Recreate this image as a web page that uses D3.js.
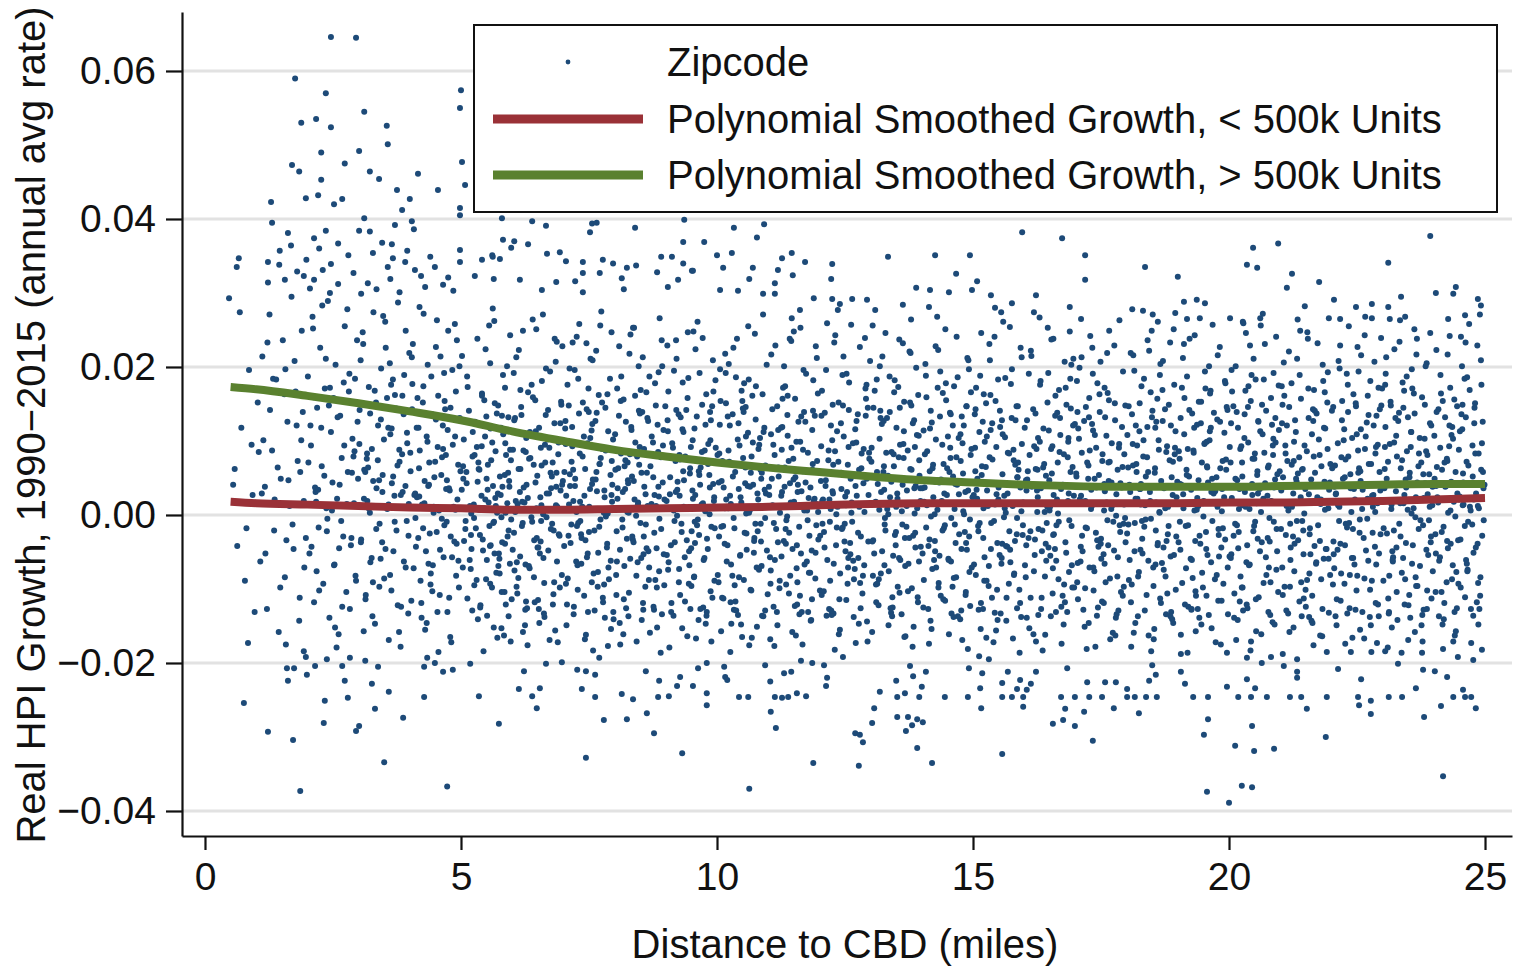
<!DOCTYPE html>
<html><head><meta charset="utf-8">
<script src="https://cdn.jsdelivr.net/npm/d3@7"></script>
<style>
body{margin:0;background:#fff}
svg text{font-family:"Liberation Sans",Arial,Helvetica,sans-serif;fill:#111}
</style>
</head><body>
<svg id="chart" width="1514" height="967"></svg>
<script>
// ---------- axis ticks ----------
const xTicks = [0, 5, 10, 15, 20, 25];
const yTicks = [-0.04, -0.02, 0, 0.02, 0.04, 0.06];

// ---------- smoothed curves (distance in miles) ----------
const curveDistance = [0.5,1,2,3,4,5,6,7,8,9,10,11,12,13,14,15,16,17,18,19,20,21,22,23,24,25];
const smoothSmall = [.0018,.0016,.0014,.0012,.0010,.0009,.0007,.0007,.0008,.0009,.0010,.0011,.0013,.0015,.0016,.0016,.0016,.0016,.0016,.0016,.0017,.0017,.0018,.0019,.0021,.0023]; // < 500k units
const smoothLarge = [.0173,.0170,.0161,.0151,.0140,.0128,.0113,.0100,.0088,.0079,.0071,.0064,.0058,.0052,.0047,.0044,.0041,.0039,.0038,.0038,.0038,.0039,.0040,.0041,.0042,.0042]; // > 500k units

// ---------- zipcode points: [distance, growth, distance, growth, ...] ----------
const zip00_05 = [
0.55,.0041,0.63,-.0042,0.71,.0118,0.78,-.0089,0.86,.0196,0.93,.0027,0.97,-.0131,0.68,.0274,0.58,.0062,0.81,-.0018,0.91,.0095,
1.03,.0152,1.08,-.0063,1.12,.0214,1.17,.0038,1.21,-.0127,1.26,.0271,1.31,.0087,1.35,-.0021,1.39,.0183,1.44,-.0158,1.48,.0049,1.52,.0236,1.56,-.0084,1.61,.0126,1.65,.0012,1.69,.0295,1.73,-.0046,1.77,.0167,1.81,.0073,1.85,-.0112,1.89,.0249,1.93,.0019,1.97,-.0031,1.14,.0101,1.42,.0064,1.58,-.0175,1.75,.0208,1.91,.0139,
2.01,.0187,2.04,-.0052,2.07,.0094,2.10,.0268,2.13,-.0118,2.16,.0031,2.19,.0145,2.22,-.0017,2.25,.0226,2.28,.0066,2.31,-.0093,2.34,.0171,2.37,.0009,2.40,.0289,2.43,-.0139,2.46,.0112,2.49,.0044,2.52,-.0068,2.55,.0203,2.58,.0022,2.61,-.0161,2.64,.0134,2.67,.0077,2.70,-.0029,2.73,.0255,2.76,-.0104,2.79,.0058,2.82,.0191,2.85,-.0041,2.88,.0103,2.91,.0016,2.94,-.0082,2.97,.0236,2.99,.0049,2.06,.0121,2.18,-.0076,2.29,.0283,2.39,-.0005,2.51,.0158,2.62,-.0045,2.71,.0179,2.83,-.0127,2.92,.0086,2.15,.0037,2.57,-.0179,
3.02,.0142,3.05,-.0033,3.08,.0247,3.11,.0061,3.14,-.0108,3.17,.0019,3.20,.0173,3.23,-.0064,3.26,.0089,3.29,.0274,3.32,-.0147,3.35,.0036,3.38,.0121,3.41,-.0012,3.44,.0198,3.47,.0054,3.50,-.0086,3.53,.0226,3.56,.0008,3.59,-.0169,3.62,.0109,3.65,.0043,3.68,-.0049,3.71,.0162,3.74,-.0021,3.77,.0287,3.80,.0072,3.83,-.0124,3.86,.0031,3.89,.0189,3.92,-.0071,3.95,.0097,3.98,.0015,3.04,.0209,3.10,-.0157,3.16,.0076,3.22,.0003,3.28,-.0091,3.34,.0152,3.40,.0047,3.46,-.0037,3.52,.0261,3.58,.0118,3.64,-.0102,3.70,.0026,3.76,.0067,3.82,-.0178,3.88,.0136,3.94,-.0008,3.99,.0219,3.13,.0058,3.43,-.0059,3.67,.0183,3.85,.0082,3.97,-.0133,
4.01,.0084,4.03,-.0116,4.06,.0231,4.09,.0027,4.12,-.0043,4.15,.0158,4.18,.0063,4.21,-.0089,4.24,.0014,4.27,.0272,4.30,-.0155,4.33,.0106,4.36,.0039,4.39,-.0025,4.42,.0187,4.45,-.0068,4.48,.0051,4.51,.0129,4.54,-.0131,4.57,.0006,4.60,.0214,4.63,.0078,4.66,-.0057,4.69,.0143,4.72,-.0009,4.75,.0249,4.78,.0033,4.81,-.0172,4.84,.0095,4.87,-.0036,4.90,.0167,4.93,.0021,4.96,-.0098,4.99,.0059,4.05,.0177,4.11,-.0004,4.17,.0118,4.23,-.0139,4.29,.0046,4.35,.0203,4.41,-.0079,4.47,.0011,4.53,.0263,4.59,-.0047,4.65,.0089,4.71,.0035,4.77,-.0112,4.83,.0196,4.89,.0007,4.95,-.0062,4.08,.0139,4.26,-.0018,4.38,.0071,4.56,-.0185,4.68,.0154,4.80,-.0029,4.92,.0236,4.14,.0024,4.44,-.0103,4.74,.0115
];
const zip05_10 = [
5.02,.0215,5.11,.0043,5.17,-.0061,5.23,.0112,5.29,-.0018,5.34,.0071,5.38,-.0122,5.41,.0164,5.45,.0009,5.49,-.0087,5.52,.0034,5.55,.0256,5.58,-.0041,5.61,.0098,5.64,-.0152,5.67,.0023,5.70,.0137,5.73,-.0069,5.76,.0052,5.79,-.0003,5.82,.0189,5.85,-.0104,5.88,.0081,5.91,-.0029,5.94,.0046,5.97,-.0171,5.06,-.0035,5.14,.0127,5.20,.0002,5.26,-.0095,5.32,.0238,5.36,.0061,5.43,-.0048,5.47,.0106,5.51,-.0136,5.54,.0017,5.59,.0074,5.63,-.0011,5.66,.0151,5.69,-.0078,5.72,.0029,5.75,-.0059,5.78,.0118,5.81,.0038,5.84,-.0163,5.87,.0003,5.90,.0201,5.93,-.0021,5.96,.0088,5.99,-.0114,5.04,.0066,5.09,-.0008,5.13,.0173,5.19,-.0073,5.25,.0014,5.31,.0092,5.37,-.0027,5.44,-.0184,5.50,.0049,5.57,-.0093,5.62,.0279,5.68,.0012,5.74,-.0052,5.80,.0134,5.86,-.0039,5.92,.0057,5.98,-.0006,5.40,.0026,
6.01,-.0047,6.04,.0128,6.07,.0019,6.10,-.0106,6.13,.0223,6.16,.0062,6.19,-.0015,6.22,.0087,6.25,-.0149,6.28,.0041,6.31,.0166,6.34,-.0072,6.37,.0008,6.40,.0264,6.43,-.0034,6.46,.0113,6.49,.0053,6.52,-.0127,6.55,.0024,6.58,.0181,6.61,-.0058,6.64,.0095,6.67,-.0003,6.70,.0142,6.73,-.0169,6.76,.0036,6.79,.0071,6.82,-.0091,6.85,.0207,6.88,.0011,6.91,-.0026,6.94,.0124,6.97,-.0081,6.99,.0046,6.03,.0192,6.09,-.0064,6.15,.0031,6.21,.0249,6.27,-.0117,6.33,.0076,6.39,-.0009,6.45,.0155,6.51,-.0044,6.57,.0013,6.63,-.0138,6.69,.0102,6.75,.0057,6.81,-.0021,6.87,.0234,6.93,-.0098,6.06,.0004,6.18,.0135,6.30,-.0176,6.42,.0068,6.54,-.0052,6.66,.0198,6.78,-.0012,6.90,.0082,6.12,-.0085,6.24,.0017,6.36,.0109,6.48,-.0031,6.60,.0271,6.72,.0029,6.84,-.0156,6.96,.0149,6.26,-.0067,6.56,.0091,6.86,.0038,6.44,-.0118,
7.02,.0058,7.05,-.0093,7.08,.0176,7.11,.0014,7.14,-.0038,7.17,.0119,7.20,-.0134,7.23,.0049,7.26,.0241,7.29,-.0011,7.32,.0083,7.35,-.0066,7.38,.0152,7.41,.0026,7.44,-.0162,7.47,.0097,7.50,-.0023,7.53,.0211,7.56,.0042,7.59,-.0079,7.62,.0007,7.65,.0138,7.68,-.0051,7.71,.0069,7.74,.0275,7.77,-.0112,7.80,.0033,7.83,-.0002,7.86,.0163,7.89,-.0087,7.92,.0054,7.95,.0018,7.98,-.0141,7.04,.0127,7.10,-.0028,7.16,.0072,7.22,.0196,7.28,-.0101,7.34,.0009,7.40,.0106,7.46,-.0057,7.52,.0035,7.58,-.0183,7.64,.0222,7.70,-.0016,7.76,.0089,7.82,.0145,7.88,-.0071,7.94,.0027,7.07,-.0121,7.19,.0061,7.31,.0258,7.43,-.0034,7.55,.0114,7.67,-.0097,7.79,.0003,7.91,.0184,7.13,.0039,7.25,-.0063,7.37,.0011,7.49,.0171,7.61,-.0129,7.73,.0077,7.85,-.0044,7.97,.0102,7.33,-.0008,7.63,.0048,7.93,-.0154,7.45,.0232,
8.01,.0109,8.04,-.0022,8.07,.0063,8.10,-.0146,8.13,.0187,8.16,.0031,8.19,-.0069,8.22,.0126,8.25,.0004,8.28,-.0105,8.31,.0244,8.34,.0052,8.37,-.0037,8.40,.0161,8.43,-.0171,8.46,.0017,8.49,.0092,8.52,-.0058,8.55,.0213,8.58,.0038,8.61,-.0013,8.64,.0131,8.67,-.0088,8.70,.0066,8.73,.0009,8.76,-.0124,8.79,.0178,8.82,-.0045,8.85,.0085,8.88,.0266,8.91,-.0019,8.94,.0044,8.97,-.0095,8.99,.0147,8.03,-.0081,8.09,.0228,8.15,-.0006,8.21,.0074,8.27,-.0137,8.33,.0115,8.39,.0021,8.45,-.0064,8.51,.0169,8.57,-.0029,8.63,.0057,8.69,-.0159,8.75,.0098,8.81,.0012,8.87,-.0076,8.93,.0201,8.06,.0036,8.18,-.0114,8.30,.0082,8.42,-.0001,8.54,.0139,8.66,-.0049,8.78,.0027,8.90,-.0186,8.12,.0154,8.24,-.0032,8.36,.0253,8.48,.0068,8.60,-.0097,8.72,.0015,8.84,.0122,8.96,-.0053,8.26,.0047,8.56,-.0128,8.86,.0193,8.44,.0079,
9.02,-.0054,9.05,.0167,9.08,.0028,9.11,-.0119,9.14,.0091,9.17,-.0008,9.20,.0236,9.23,.0045,9.26,-.0073,9.29,.0132,9.32,-.0153,9.35,.0011,9.38,.0079,9.41,-.0034,9.44,.0185,9.47,.0056,9.50,-.0096,9.53,.0022,9.56,.0117,9.59,-.0167,9.62,.0261,9.65,-.0027,9.68,.0064,9.71,.0149,9.74,-.0061,9.77,.0005,9.80,-.0131,9.83,.0096,9.86,.0037,9.89,-.0016,9.92,.0209,9.95,-.0089,9.98,.0071,9.04,.0113,9.10,-.0041,9.16,.0195,9.22,-.0001,9.28,-.0108,9.34,.0059,9.40,.0142,9.46,-.0068,9.52,.0033,9.58,.0224,9.64,-.0142,9.70,.0014,9.76,.0087,9.82,-.0046,9.88,.0128,9.94,.0019,9.07,-.0179,9.19,.0073,9.31,-.0023,9.43,.0247,9.55,-.0084,9.67,.0041,9.79,.0163,9.91,-.0112,9.13,.0008,9.25,.0136,9.37,-.0057,9.49,.0092,9.61,-.0014,9.73,-.0125,9.85,.0054,9.97,.0182,9.27,.0026,9.57,-.0038,9.87,.0101,9.45,-.0093
];
const zip10_15 = [
10.01,.0081,10.04,-.0029,10.07,.0154,10.10,-.0112,10.13,.0037,10.16,.0218,10.19,-.0063,10.22,.0009,10.25,.0121,10.28,-.0147,10.31,.0052,10.34,-.0018,10.37,.0186,10.40,.0068,10.43,-.0084,10.46,.0024,10.49,-.0165,10.52,.0139,10.55,.0043,10.58,-.0047,10.61,.0255,10.64,.0006,10.67,-.0102,10.70,.0098,10.73,-.0031,10.76,.0174,10.79,.0029,10.82,-.0074,10.85,.0061,10.88,-.0136,10.91,.0112,10.94,-.0004,10.97,.0203,10.03,-.0091,10.09,.0046,10.15,-.0039,10.21,.0133,10.27,.0015,10.33,-.0128,10.39,.0238,10.45,-.0055,10.51,.0077,10.57,.0002,10.63,-.0176,10.69,.0161,10.75,-.0012,10.81,.0089,10.87,-.0069,10.93,.0034,10.99,-.0107,10.06,.0197,10.18,.0021,10.30,-.0082,10.42,.0124,10.54,-.0024,10.66,.0057,10.78,-.0151,10.90,.0271,10.12,-.0015,10.24,.0072,10.36,-.0117,10.48,.0168,10.60,.0039,10.72,-.0051,10.84,.0104,10.96,.0011,10.26,-.0185,10.56,.0146,10.86,-.0036,10.44,.0094,
11.02,.0027,11.05,-.0075,11.08,.0143,11.11,-.0011,11.14,.0229,11.17,-.0131,11.20,.0064,11.23,.0003,11.26,-.0056,11.29,.0172,11.32,.0038,11.35,-.0094,11.38,.0107,11.41,-.0024,11.44,.0017,11.47,-.0158,11.50,.0248,11.53,.0051,11.56,-.0041,11.59,.0126,11.62,-.0109,11.65,.0032,11.68,.0088,11.71,-.0067,11.74,.0191,11.77,-.0007,11.80,.0058,11.83,-.0143,11.86,.0115,11.89,.0019,11.92,-.0086,11.95,.0212,11.98,-.0033,11.04,-.0168,11.10,.0095,11.16,.0012,11.22,-.0099,11.28,.0157,11.34,-.0019,11.40,.0073,11.46,.0266,11.52,-.0123,11.58,.0041,11.64,-.0052,11.70,.0139,11.76,.0006,11.82,-.0078,11.88,.0182,11.94,-.0014,11.07,.0049,11.19,-.0037,11.31,.0201,11.43,-.0082,11.55,.0099,11.67,-.0175,11.79,.0023,11.91,.0134,11.13,-.0061,11.25,.0118,11.37,-.0002,11.49,.0076,11.61,-.0134,11.73,.0044,11.85,-.0048,11.97,.0164,11.27,.0031,11.57,-.0091,11.87,.0069,11.45,.0235,
12.01,-.0102,12.04,.0134,12.07,.0021,12.10,-.0044,12.13,.0196,12.16,.0057,12.19,-.0127,12.22,.0008,12.25,.0101,12.28,-.0066,12.31,.0243,12.34,-.0017,12.37,.0072,12.40,-.0155,12.43,.0035,12.46,.0148,12.49,-.0036,12.52,.0013,12.55,-.0093,12.58,.0179,12.61,.0049,12.64,-.0009,12.67,-.0138,12.70,.0116,12.73,.0026,12.76,-.0058,12.79,.0227,12.82,.0063,12.85,-.0082,12.88,.0004,12.91,.0157,12.94,-.0171,12.97,.0084,12.03,.0046,12.09,-.0023,12.15,.0259,12.21,-.0089,12.27,.0068,12.33,.0001,12.39,-.0114,12.45,.0189,12.51,-.0049,12.57,.0092,12.63,.0017,12.69,-.0073,12.75,.0136,12.81,-.0029,12.87,.0054,12.93,-.0144,12.99,.0208,12.06,-.0012,12.18,.0087,12.30,-.0182,12.42,.0124,12.54,.0031,12.66,-.0062,12.78,.0011,12.90,.0171,12.12,.0039,12.24,-.0135,12.36,.0277,12.48,.0055,12.60,-.0038,12.72,.0098,12.84,-.0106,12.96,.0027,12.26,.0149,12.56,-.0071,12.86,.0043,12.44,-.0019,
13.02,.0091,13.05,-.0034,13.08,.0168,13.11,-.0118,13.14,.0042,13.17,.0007,13.20,-.0079,13.23,.0214,13.26,.0066,13.29,-.0021,13.32,.0131,13.35,-.0149,13.38,.0024,13.41,.0085,13.44,-.0055,13.47,.0182,13.50,.0011,13.53,-.0097,13.56,.0237,13.59,.0048,13.62,-.0013,13.65,.0113,13.68,-.0164,13.71,.0033,13.74,-.0066,13.77,.0152,13.80,.0061,13.83,-.0028,13.86,.0002,13.89,.0199,13.92,-.0111,13.95,.0074,13.98,-.0043,13.04,.0256,13.10,.0018,13.16,-.0087,13.22,.0123,13.28,-.0004,13.34,.0053,13.40,-.0132,13.46,.0166,13.52,.0029,13.58,-.0061,13.64,.0096,13.70,-.0016,13.76,.0221,13.82,-.0178,13.88,.0039,13.94,.0107,13.07,-.0052,13.19,.0141,13.31,.0015,13.43,-.0125,13.55,.0078,13.67,-.0031,13.79,.0264,13.91,.0009,13.13,-.0093,13.25,.0058,13.37,.0187,13.49,-.0041,13.61,.0005,13.73,-.0103,13.85,.0128,13.97,.0036,13.27,-.0068,13.57,.0145,13.87,-.0024,13.45,.0082,
14.01,.0036,14.04,-.0088,14.07,.0204,14.10,.0013,14.13,-.0042,14.16,.0117,14.19,-.0154,14.22,.0068,14.25,.0001,14.28,-.0071,14.31,.0172,14.34,.0044,14.37,-.0109,14.40,.0095,14.43,-.0018,14.46,.0251,14.49,.0027,14.52,-.0059,14.55,.0138,14.58,-.0133,14.61,.0052,14.64,.0008,14.67,-.0084,14.70,.0186,14.73,-.0026,14.76,.0073,14.79,-.0169,14.82,.0121,14.85,.0031,14.88,-.0047,14.91,.0209,14.94,-.0006,14.97,.0089,14.03,-.0125,14.09,.0159,14.15,-.0033,14.21,.0063,14.27,.0228,14.33,-.0092,14.39,.0019,14.45,-.0014,14.51,.0106,14.57,-.0063,14.63,.0174,14.69,.0041,14.75,-.0141,14.81,.0005,14.87,.0147,14.93,-.0077,14.99,.0024,14.06,.0082,14.18,-.0002,14.30,.0268,14.42,-.0114,14.54,.0058,14.66,-.0038,14.78,.0133,14.90,-.0181,14.12,.0047,14.24,-.0061,14.36,.0194,14.48,.0016,14.60,-.0097,14.72,.0104,14.84,-.0023,14.96,.0166,14.26,-.0049,14.56,.0077,14.86,-.0104,14.44,.0029
];
const zip15_20 = [
15.02,-.0067,15.05,.0143,15.08,.0022,15.11,-.0128,15.14,.0188,15.17,.0054,15.20,-.0031,15.23,.0099,15.26,-.0166,15.29,.0012,15.32,.0231,15.35,-.0046,15.38,.0075,15.41,-.0008,15.44,.0154,15.47,-.0101,15.50,.0037,15.53,.0119,15.56,-.0058,15.59,.0261,15.62,.0009,15.65,-.0143,15.68,.0084,15.71,-.0022,15.74,.0177,15.77,.0041,15.80,-.0081,15.83,.0128,15.86,-.0004,15.89,.0061,15.92,-.0119,15.95,.0213,15.98,.0017,15.04,.0091,15.10,-.0015,15.16,.0246,15.22,-.0089,15.28,.0043,15.34,.0162,15.40,-.0172,15.46,.0028,15.52,-.0054,15.58,.0109,15.64,.0003,15.70,-.0093,15.76,.0197,15.82,-.0035,15.88,.0071,15.94,-.0138,15.07,.0034,15.19,.0126,15.31,-.0069,15.43,.0014,15.55,.0274,15.67,-.0043,15.79,.0088,15.91,-.0186,15.13,-.0011,15.25,.0065,15.37,-.0112,15.49,.0183,15.61,.0026,15.73,-.0064,15.85,.0147,15.97,-.0027,15.27,.0106,15.57,-.0039,15.87,.0051,15.45,-.0156,
16.01,.0118,16.04,-.0041,16.07,.0059,16.10,-.0153,16.13,.0222,16.16,.0015,16.19,-.0076,16.22,.0137,16.25,.0033,16.28,-.0019,16.31,.0176,16.34,-.0112,16.37,.0064,16.40,.0004,16.43,-.0062,16.46,.0253,16.49,.0047,16.52,-.0137,16.55,.0093,16.58,-.0026,16.61,.0161,16.64,.0021,16.67,-.0087,16.70,.0131,16.73,-.0174,16.76,.0039,16.79,.0207,16.82,-.0051,16.85,.0078,16.88,-.0007,16.91,.0144,16.94,-.0098,16.97,.0026,16.03,-.0084,16.09,.0191,16.15,.0038,16.21,-.0033,16.27,.0104,16.33,-.0127,16.39,.0069,16.45,.0011,16.51,-.0055,16.57,.0238,16.63,-.0014,16.69,.0085,16.75,-.0109,16.81,.0172,16.87,.0029,16.93,-.0068,16.99,.0123,16.06,.0048,16.18,-.0161,16.30,.0267,16.42,-.0039,16.54,.0056,16.66,.0002,16.78,-.0094,16.90,.0184,16.12,-.0022,16.24,.0089,16.36,-.0183,16.48,.0114,16.60,-.0046,16.72,.0035,16.84,-.0131,16.96,.0211,16.26,.0061,16.56,-.0072,16.86,.0099,16.44,-.0011,
17.02,.0052,17.05,-.0114,17.08,.0199,17.11,.0026,17.14,-.0049,17.17,.0127,17.20,-.0017,17.23,.0071,17.26,-.0146,17.29,.0242,17.32,.0012,17.35,-.0071,17.38,.0108,17.41,.0037,17.44,-.0125,17.47,.0163,17.50,-.0032,17.53,.0082,17.56,.0006,17.59,-.0091,17.62,.0219,17.65,.0046,17.68,-.0168,17.71,.0097,17.74,-.0009,17.77,.0151,17.80,.0028,17.83,-.0057,17.86,.0263,17.89,-.0104,17.92,.0065,17.95,.0014,17.98,-.0037,17.04,.0139,17.10,-.0063,17.16,.0018,17.22,-.0181,17.28,.0087,17.34,.0191,17.40,-.0024,17.46,.0054,17.52,-.0117,17.58,.0132,17.64,-.0041,17.70,.0008,17.76,.0229,17.82,-.0083,17.88,.0043,17.94,-.0012,17.07,.0103,17.19,-.0099,17.31,.0034,17.43,.0178,17.55,-.0053,17.67,.0072,17.79,-.0139,17.91,.0119,17.13,-.0028,17.25,.0049,17.37,-.0076,17.49,.0207,17.61,.0017,17.73,-.0159,17.85,.0091,17.97,-.0004,17.27,.0158,17.57,-.0066,17.87,.0039,17.45,-.0043,
18.01,-.0025,18.04,.0147,18.07,.0031,18.10,-.0094,18.13,.0216,18.16,-.0011,18.19,.0069,18.22,-.0137,18.25,.0113,18.28,.0042,18.31,-.0052,18.34,.0184,18.37,-.0006,18.40,.0078,18.43,-.0163,18.46,.0019,18.49,.0249,18.52,-.0071,18.55,.0057,18.58,.0126,18.61,-.0038,18.64,.0004,18.67,-.0119,18.70,.0169,18.73,.0036,18.76,-.0083,18.79,.0093,18.82,-.0015,18.85,.0233,18.88,.0051,18.91,-.0146,18.94,.0082,18.97,-.0029,18.03,.0064,18.09,-.0178,18.15,.0195,18.21,.0022,18.27,-.0047,18.33,.0101,18.39,-.0108,18.45,.0039,18.51,.0271,18.57,-.0021,18.63,.0088,18.69,-.0065,18.75,.0143,18.81,.0011,18.87,-.0131,18.93,.0176,18.99,.0045,18.06,-.0061,18.18,.0121,18.30,-.0008,18.42,.0058,18.54,-.0154,18.66,.0204,18.78,-.0035,18.90,.0027,18.12,.0096,18.24,-.0077,18.36,.0013,18.48,-.0184,18.60,.0157,18.72,-.0044,18.84,.0074,18.96,-.0101,18.26,.0035,18.56,.0118,18.86,-.0056,18.44,.0222,
19.02,.0086,19.05,-.0047,19.08,.0172,19.11,.0009,19.14,-.0121,19.17,.0061,19.20,-.0014,19.23,.0238,19.26,.0034,19.29,-.0085,19.32,.0118,19.35,-.0157,19.38,.0023,19.41,.0153,19.44,-.0039,19.47,.0071,19.50,-.0002,19.53,.0194,19.56,-.0109,19.59,.0044,19.62,.0101,19.65,-.0064,19.68,.0257,19.71,.0016,19.74,-.0172,19.77,.0129,19.80,-.0027,19.83,.0063,19.86,.0005,19.89,-.0093,19.92,.0181,19.95,.0038,19.98,-.0134,19.04,-.0009,19.10,.0212,19.16,-.0072,19.22,.0052,19.28,.0137,19.34,-.0035,19.40,.0012,19.46,-.0148,19.52,.0096,19.58,-.0054,19.64,.0168,19.70,.0029,19.76,-.0081,19.82,.0227,19.88,-.0018,19.94,.0075,19.07,.0041,19.19,-.0186,19.31,.0084,19.43,.0266,19.55,-.0023,19.67,.0049,19.79,-.0116,19.91,.0111,19.13,.0158,19.25,-.0059,19.37,.0007,19.49,-.0098,19.61,.0201,19.73,.0032,19.85,-.0044,19.97,.0142,19.27,-.0127,19.57,.0066,19.87,.0018,19.45,.0124
];
const zip20_25 = [
20.01,-.0056,20.04,.0124,20.07,.0018,20.10,-.0139,20.13,.0201,20.16,.0047,20.19,-.0023,20.22,.0089,20.25,-.0098,20.28,.0259,20.31,.0031,20.34,-.0064,20.37,.0146,20.40,.0008,20.43,-.0171,20.46,.0076,20.49,-.0015,20.52,.0183,20.55,.0054,20.58,-.0111,20.61,.0113,20.64,-.0037,20.67,.0022,20.70,.0231,20.73,-.0081,20.76,.0064,20.79,-.0004,20.82,.0158,20.85,-.0145,20.88,.0037,20.91,.0098,20.94,-.0049,20.97,.0175,20.03,.0071,20.09,-.0028,20.15,.0139,20.21,-.0117,20.27,.0013,20.33,.0246,20.39,-.0068,20.45,.0042,20.51,-.0009,20.57,.0127,20.63,-.0161,20.69,.0084,20.75,.0026,20.81,-.0091,20.87,.0192,20.93,-.0019,20.99,.0059,20.06,.0167,20.18,-.0045,20.30,.0104,20.42,-.0183,20.54,.0016,20.66,.0272,20.78,-.0071,20.90,.0048,20.12,-.0012,20.24,.0093,20.36,-.0126,20.48,.0211,20.60,.0035,20.72,-.0057,20.84,.0122,20.96,-.0104,20.26,.0052,20.56,-.0032,20.86,.0081,20.44,.0189,
21.02,.0033,21.05,-.0108,21.08,.0161,21.11,-.0027,21.14,.0073,21.17,.0221,21.20,-.0061,21.23,.0011,21.26,-.0152,21.29,.0128,21.32,.0045,21.35,-.0034,21.38,.0189,21.41,-.0091,21.44,.0062,21.47,.0002,21.50,-.0124,21.53,.0247,21.56,.0028,21.59,-.0053,21.62,.0109,21.65,-.0176,21.68,.0057,21.71,.0137,21.74,-.0014,21.77,.0081,21.80,-.0087,21.83,.0203,21.86,.0019,21.89,-.0046,21.92,.0152,21.95,-.0132,21.98,.0069,21.04,-.0071,21.10,.0094,21.16,.0006,21.22,.0178,21.28,-.0039,21.34,.0264,21.40,.0024,21.46,-.0113,21.52,.0086,21.58,-.0018,21.64,.0143,21.70,-.0066,21.76,.0039,21.82,-.0164,21.88,.0117,21.94,.0009,21.07,.0206,21.19,-.0097,21.31,.0049,21.43,-.0008,21.55,.0171,21.67,-.0042,21.79,.0015,21.91,-.0185,21.13,.0121,21.25,-.0029,21.37,.0078,21.49,.0035,21.61,-.0143,21.73,.0232,21.85,-.0059,21.97,.0044,21.27,.0099,21.57,-.0079,21.87,.0166,21.45,-.0021,
22.01,.0141,22.04,-.0036,22.07,.0067,22.10,-.0149,22.13,.0013,22.16,.0198,22.19,-.0079,22.22,.0041,22.25,.0116,22.28,-.0012,22.31,-.0133,22.34,.0255,22.37,.0055,22.40,-.0058,22.43,.0163,22.46,.0021,22.49,-.0102,22.52,.0087,22.55,-.0024,22.58,.0216,22.61,.0034,22.64,-.0167,22.67,.0106,22.70,-.0005,22.73,.0069,22.76,.0181,22.79,-.0089,22.82,.0027,22.85,-.0043,22.88,.0134,22.91,-.0121,22.94,.0058,22.97,.0239,22.03,-.0094,22.09,.0029,22.15,-.0008,22.21,.0154,22.27,-.0174,22.33,.0079,22.39,.0004,22.45,-.0067,22.51,.0227,22.57,.0046,22.63,-.0031,22.69,.0125,22.75,-.0138,22.81,.0011,22.87,.0092,22.93,-.0052,22.99,.0171,22.06,.0038,22.18,-.0116,22.30,.0191,22.42,-.0019,22.54,.0063,22.66,.0268,22.78,-.0185,22.90,.0016,22.12,-.0047,22.24,.0101,22.36,-.0081,22.48,.0147,22.60,.0008,22.72,-.0062,22.84,.0207,22.96,-.0026,22.26,.0051,22.56,-.0155,22.86,.0083,22.44,.0035,
23.02,-.0018,23.05,.0176,23.08,.0049,23.11,-.0113,23.14,.0096,23.17,.0008,23.20,-.0063,23.23,.0224,23.26,.0032,23.29,-.0142,23.32,.0138,23.35,-.0029,23.38,.0074,23.41,.0016,23.44,-.0087,23.47,.0187,23.50,-.0169,23.53,.0057,23.56,.0112,23.59,-.0041,23.62,.0251,23.65,.0024,23.68,-.0096,23.71,.0083,23.74,-.0007,23.77,.0159,23.80,-.0128,23.83,.0043,23.86,.0205,23.89,-.0054,23.92,.0011,23.95,.0121,23.98,-.0076,23.04,.0062,23.10,-.0179,23.16,.0148,23.22,-.0021,23.28,.0079,23.34,.0263,23.40,-.0058,23.46,.0037,23.52,-.0108,23.58,.0171,23.64,-.0003,23.70,.0066,23.76,-.0149,23.82,.0103,23.88,.0028,23.94,-.0037,23.07,.0213,23.19,-.0049,23.31,.0019,23.43,-.0121,23.55,.0092,23.67,.0238,23.79,-.0014,23.91,.0055,23.13,-.0082,23.25,.0131,23.37,-.0186,23.49,.0007,23.61,.0164,23.73,-.0069,23.85,.0086,23.97,.0013,23.27,-.0044,23.57,.0197,23.87,-.0102,23.45,.0048,
24.01,.0107,24.04,-.0052,24.07,.0024,24.10,-.0137,24.13,.0189,24.16,.0061,24.19,-.0016,24.22,.0132,24.25,-.0091,24.28,.0003,24.31,.0242,24.34,.0045,24.37,-.0068,24.40,.0156,24.43,-.0157,24.46,.0029,24.49,.0088,24.52,-.0033,24.55,.0201,24.58,.0014,24.61,-.0111,24.64,.0072,24.67,-.0009,24.70,.0169,24.73,-.0173,24.76,.0052,24.79,.0124,24.82,-.0044,24.85,.0229,24.88,.0009,24.91,-.0084,24.94,.0097,24.97,.0036,24.03,-.0026,24.09,.0143,24.15,-.0104,24.21,.0071,24.27,.0217,24.33,-.0039,24.39,.0018,24.45,-.0126,24.51,.0113,24.57,.0056,24.63,-.0061,24.69,.0258,24.75,-.0013,24.81,.0083,24.87,-.0148,24.93,.0176,24.99,.0041,24.06,.0065,24.18,-.0181,24.30,.0093,24.42,-.0002,24.54,.0136,24.66,-.0074,24.78,.0021,24.90,.0271,24.12,-.0057,24.24,.0039,24.36,.0119,24.48,-.0093,24.60,.0184,24.72,.0006,24.84,-.0118,24.96,.0058,24.26,-.0035,24.56,.0149,24.86,.0012,24.44,-.0077
];
// dense centre of the cloud (second read, |growth| mostly within ~0.015)
const zipDense01_10 = [
1.05,.0085,1.18,-.0052,1.27,.0142,1.36,.0021,1.47,-.0098,1.55,.0163,1.63,.0047,1.71,-.0013,1.79,.0121,1.86,.0058,1.94,-.0071,1.11,.0029,1.33,.0184,1.59,-.0034,1.88,.0101,
2.02,.0071,2.08,-.0043,2.12,.0159,2.17,.0018,2.23,-.0102,2.27,.0118,2.33,.0053,2.38,-.0022,2.44,.0172,2.48,.0006,2.53,-.0067,2.59,.0132,2.63,.0041,2.68,-.0124,2.72,.0094,2.77,.0015,2.81,.0167,2.86,-.0031,2.90,.0079,2.95,-.0089,2.98,.0126,2.21,.0034,2.42,.0148,2.66,-.0008,2.87,.0057,
3.015,.0096,3.045,-.0037,3.075,.0151,3.105,.0022,3.135,-.0114,3.165,.0083,3.195,.0009,3.225,.0137,3.255,-.0058,3.285,.0046,3.315,.0168,3.345,-.0019,3.375,.0074,3.405,-.0097,3.435,.0129,3.465,.0031,3.495,.0102,3.525,-.0046,3.555,.0158,3.585,.0014,3.615,-.0081,3.645,.0117,3.675,.0052,3.705,-.0009,3.735,.0144,3.765,-.0122,3.795,.0088,3.825,.0027,3.855,.0161,3.885,-.0063,3.915,.0039,3.945,.0111,3.975,-.0028,3.185,.0064,3.635,.0176,
4.015,.0059,4.045,.0143,4.075,-.0072,4.105,.0029,4.135,.0118,4.165,-.0031,4.195,.0087,4.225,-.0119,4.255,.0152,4.285,.0016,4.315,-.0049,4.345,.0099,4.375,.0041,4.405,-.0094,4.435,.0136,4.465,.0003,4.495,.0072,4.525,-.0023,4.555,.0161,4.585,-.0108,4.615,.0054,4.645,.0121,4.675,-.0014,4.705,.0081,4.735,-.0131,4.765,.0036,4.795,.0145,4.825,-.0057,4.855,.0011,4.885,.0106,4.915,-.0039,4.945,.0068,4.975,.0131,4.185,.0025,4.365,-.0066,4.545,.0092,4.725,.0047,4.905,-.0082,4.265,.0174,4.625,-.0005,
5.015,.0034,5.035,-.0071,5.055,.0102,5.085,-.0019,5.105,.0058,5.125,-.0113,5.155,.0141,5.175,.0012,5.205,-.0046,5.225,.0079,5.255,-.0004,5.275,.0126,5.305,-.0088,5.325,.0045,5.355,.0007,5.375,-.0125,5.405,.0093,5.425,-.0033,5.455,.0155,5.475,.0021,5.505,-.0061,5.525,.0068,5.555,-.0015,5.575,.0117,5.605,-.0098,5.625,.0039,5.655,-.0052,5.675,.0086,5.705,.0003,5.725,.0148,5.755,-.0079,5.775,.0027,5.805,-.0037,5.825,.0109,5.855,.0054,5.875,-.0121,5.905,.0016,5.925,.0132,5.955,-.0066,5.975,.0074,5.045,.0049,5.195,-.0027,5.345,.0062,5.495,.0133,5.645,-.0009,5.795,-.0104,5.945,.0038,5.265,.0081,5.565,-.0042,5.865,.0097,
6.015,.0088,6.035,-.0024,6.055,.0131,6.085,-.0097,6.105,.0015,6.125,.0062,6.155,-.0056,6.175,.0146,6.205,-.0011,6.225,.0037,6.255,-.0128,6.275,.0104,6.305,.0023,6.325,-.0069,6.355,.0077,6.375,-.0003,6.405,.0159,6.425,-.0084,6.455,.0044,6.475,.0009,6.505,-.0115,6.525,.0118,6.555,-.0036,6.575,.0067,6.605,.0001,6.625,-.0092,6.655,.0135,6.675,.0029,6.705,-.0048,6.725,.0091,6.755,-.0019,6.775,.0052,6.805,-.0107,6.825,.0124,6.855,.0013,6.875,-.0063,6.905,.0098,6.925,-.0028,6.955,.0153,6.975,.0041,6.045,-.0075,6.195,.0018,6.345,.0112,6.495,-.0044,6.645,.0071,6.795,-.0121,6.945,.0033,6.265,.0085,6.565,-.0008,6.865,.0057,
7.015,-.0042,7.035,.0117,7.055,.0026,7.085,-.0086,7.105,.0148,7.125,.0055,7.155,-.0013,7.175,.0093,7.205,-.0124,7.225,.0039,7.255,.0004,7.275,-.0068,7.305,.0137,7.325,.0018,7.355,-.0031,7.375,.0079,7.405,-.0109,7.425,.0062,7.455,.0143,7.475,-.0052,7.505,.0011,7.525,.0104,7.555,-.0091,7.575,.0048,7.605,-.0021,7.625,.0127,7.655,.0032,7.675,-.0077,7.705,.0069,7.725,-.0006,7.755,.0152,7.775,-.0118,7.805,.0024,7.825,.0087,7.855,-.0039,7.875,.0113,7.905,.0008,7.925,-.0062,7.955,.0041,7.975,-.0131,7.045,.0096,7.195,.0019,7.345,-.0026,7.495,.0139,7.645,.0058,7.795,-.0094,7.945,.0073,7.265,-.0015,7.565,.0123,7.865,.0002,
8.015,.0061,8.035,-.0108,8.055,.0022,8.085,.0134,8.105,-.0047,8.125,.0083,8.155,-.0017,8.175,.0156,8.205,.0035,8.225,-.0126,8.255,.0071,8.275,.0003,8.305,-.0059,8.325,.0119,8.355,-.0033,8.375,.0046,8.405,.0098,8.425,-.0082,8.455,.0014,8.475,.0141,8.505,-.0011,8.525,.0057,8.555,-.0119,8.575,.0089,8.605,.0028,8.625,-.0045,8.655,.0127,8.675,-.0071,8.705,.0009,8.725,.0106,8.755,.0051,8.775,-.0024,8.805,.0148,8.825,-.0098,8.855,.0038,8.875,-.0005,8.905,.0078,8.925,-.0134,8.955,.0115,8.975,.0021,8.045,-.0063,8.195,.0066,8.345,-.0029,8.495,.0137,8.645,.0012,8.795,-.0088,8.945,.0094,8.265,.0043,8.565,-.0053,8.865,.0025,
9.015,.0019,9.035,.0128,9.055,-.0064,9.085,.0051,9.105,-.0131,9.125,.0097,9.155,.0006,9.175,-.0037,9.205,.0142,9.225,.0034,9.255,-.0091,9.275,.0075,9.305,-.0012,9.325,.0116,9.355,.0047,9.375,-.0117,9.405,.0008,9.425,.0158,9.455,-.0049,9.475,.0063,9.505,-.0022,9.525,.0101,9.555,-.0083,9.575,.0027,9.605,.0133,9.625,-.0006,9.655,.0054,9.675,-.0127,9.705,.0085,9.725,.0016,9.755,-.0058,9.775,.0122,9.805,-.0032,9.825,.0069,9.855,.0001,9.875,-.0103,9.905,.0147,9.925,.0042,9.955,-.0018,9.975,.0091,9.045,-.0074,9.195,.0031,9.345,.0112,9.495,-.0045,9.645,.0059,9.795,-.0136,9.945,.0024,9.265,.0081,9.565,-.0009,9.865,.0139
];
const zipDense10_25 = [
10.015,-.0081,10.035,.0044,10.055,.0122,10.085,-.0016,10.105,.0073,10.125,-.0113,10.155,.0009,10.175,.0151,10.205,-.0041,10.225,.0087,10.255,.0026,10.275,-.0067,10.305,.0136,10.325,-.0004,10.355,.0058,10.375,-.0129,10.405,.0102,10.425,.0035,10.455,-.0054,10.475,.0017,10.505,.0144,10.525,-.0088,10.555,.0064,10.575,-.0025,10.605,.0111,10.625,.0003,10.655,-.0101,10.675,.0079,10.705,.0041,10.725,-.0035,10.755,.0129,10.775,-.0071,10.805,.0021,10.825,.0095,10.855,-.0012,10.875,.0057,10.905,-.0137,10.925,.0118,10.955,.0029,10.975,-.0048,10.045,.0083,10.195,.0011,10.345,-.0095,10.495,.0154,10.645,.0038,10.795,-.0022,10.945,.0067,10.265,-.0118,10.565,.0106,10.865,.0049,
11.015,.0038,11.035,-.0057,11.055,.0109,11.085,.0013,11.105,-.0124,11.125,.0081,11.155,-.0019,11.175,.0147,11.205,.0052,11.225,-.0089,11.255,.0026,11.275,.0119,11.305,-.0035,11.325,.0064,11.355,-.0007,11.375,.0135,11.405,-.0106,11.425,.0043,11.455,.0091,11.475,-.0046,11.505,.0018,11.525,.0157,11.555,-.0072,11.575,.0031,11.605,-.0016,11.625,.0099,11.655,-.0131,11.675,.0059,11.705,.0006,11.725,.0126,11.755,-.0063,11.775,.0084,11.805,-.0028,11.825,.0037,11.855,-.0114,11.875,.0141,11.905,.0022,11.925,-.0051,11.955,.0073,11.975,.0004,11.045,-.0093,11.195,.0115,11.345,-.0039,11.495,.0048,11.645,.0133,11.795,-.0078,11.945,.0015,11.265,.0088,11.565,-.0121,11.865,.0061,
12.015,-.0028,12.035,.0093,12.055,.0019,12.085,-.0103,12.105,.0138,12.125,.0047,12.155,-.0061,12.175,.0074,12.205,-.0009,12.225,.0121,12.255,.0032,12.275,-.0133,12.305,.0086,12.325,-.0041,12.355,.0011,12.375,.0152,12.405,-.0079,12.425,.0057,12.455,-.0017,12.475,.0106,12.505,.0025,12.525,-.0115,12.555,.0068,12.575,.0142,12.605,-.0053,12.625,.0003,12.655,.0097,12.675,-.0087,12.705,.0039,12.725,.0127,12.755,-.0024,12.775,.0061,12.805,-.0126,12.825,.0083,12.855,.0014,12.875,-.0068,12.905,.0134,12.925,.0049,12.955,-.0036,12.975,.0076,12.045,-.0108,12.195,.0021,12.345,.0113,12.495,-.0012,12.645,.0055,12.795,-.0092,12.945,.0145,12.265,.0029,12.565,-.0058,12.865,.0089,
13.015,.0072,13.035,-.0036,13.055,.0145,13.085,.0017,13.105,-.0094,13.125,.0058,13.155,-.0122,13.175,.0103,13.205,.0031,13.225,-.0049,13.255,.0127,13.275,-.0013,13.305,.0084,13.325,.0008,13.355,-.0076,13.375,.0139,13.405,.0045,13.425,-.0111,13.455,.0066,13.475,-.0027,13.505,.0118,13.525,.0022,13.555,-.0058,13.575,.0095,13.605,-.0134,13.625,.0041,13.655,.0153,13.675,-.0069,13.705,.0012,13.725,.0087,13.755,-.0031,13.775,.0062,13.805,-.0099,13.825,.0124,13.855,.0036,13.875,-.0044,13.905,.0108,13.925,-.0118,13.955,.0053,13.975,.0019,13.045,-.0082,13.195,.0131,13.345,.0001,13.495,-.0023,13.645,.0077,13.795,.0148,13.945,-.0063,13.265,.0034,13.565,-.0105,13.865,.0092,
14.015,-.0052,14.035,.0114,14.055,.0037,14.085,-.0017,14.105,.0086,14.125,-.0127,14.155,.0059,14.175,.0141,14.205,-.0073,14.225,.0024,14.255,-.0035,14.275,.0102,14.305,.0007,14.325,-.0098,14.355,.0133,14.375,.0048,14.405,-.0021,14.425,.0069,14.455,-.0116,14.475,.0155,14.505,.0015,14.525,-.0061,14.555,.0091,14.575,-.0004,14.605,.0121,14.625,-.0085,14.655,.0042,14.675,.0078,14.705,-.0137,14.725,.0028,14.755,.0109,14.775,-.0046,14.805,.0056,14.825,.0001,14.855,-.0108,14.875,.0147,14.905,.0033,14.925,-.0029,14.955,.0081,14.975,-.0071,14.045,.0018,14.195,.0125,14.345,-.0055,14.495,.0063,14.645,-.0013,14.795,.0097,14.945,-.0123,14.265,.0045,14.565,.0136,14.865,-.0038,
15.015,.0027,15.035,.0136,15.055,-.0081,15.085,.0049,15.105,-.0022,15.125,.0112,15.155,-.0119,15.175,.0066,15.205,.0009,15.225,-.0057,15.255,.0151,15.275,.0033,15.305,-.0096,15.325,.0078,15.355,-.0011,15.375,.0124,15.405,.0043,15.425,-.0132,15.455,.0092,15.475,-.0038,15.505,.0017,15.525,.0141,15.555,-.0066,15.575,.0055,15.605,-.0003,15.625,.0105,15.655,-.0112,15.675,.0029,15.705,.0083,15.725,-.0047,15.755,.0131,15.775,.0012,15.805,-.0079,15.825,.0068,15.855,-.0026,15.875,.0147,15.905,-.0101,15.925,.0037,15.955,.0096,15.975,-.0014,15.045,.0059,15.195,-.0127,15.345,.0115,15.495,.0021,15.645,-.0042,15.795,.0074,15.945,.0005,15.265,-.0089,15.565,.0128,15.865,.0051,
16.015,-.0068,16.035,.0047,16.055,.0128,16.085,-.0031,16.105,.0081,16.125,-.0112,16.155,.0016,16.175,.0143,16.205,-.0054,16.225,.0062,16.255,.0004,16.275,-.0135,16.305,.0099,16.325,.0036,16.355,-.0021,16.375,.0117,16.405,-.0083,16.425,.0053,16.455,.0152,16.475,-.0044,16.505,.0011,16.525,.0089,16.555,-.0106,16.575,.0027,16.605,.0134,16.625,-.0062,16.655,.0071,16.675,-.0009,16.705,.0108,16.725,-.0124,16.755,.0041,16.775,.0082,16.805,-.0037,16.825,.0149,16.855,.0019,16.875,-.0077,16.905,.0058,16.925,-.0015,16.955,.0121,16.975,-.0098,16.045,.0033,16.195,.0093,16.345,-.0049,16.495,.0006,16.645,.0138,16.795,-.0118,16.945,.0065,16.265,.0024,16.565,-.0027,16.865,.0104,
17.015,.0056,17.035,-.0091,17.055,.0117,17.085,.0021,17.105,-.0043,17.125,.0084,17.155,-.0128,17.175,.0039,17.205,.0146,17.225,-.0018,17.255,.0067,17.275,-.0071,17.305,.0008,17.325,.0123,17.355,-.0102,17.375,.0049,17.405,.0091,17.425,-.0034,17.455,.0015,17.475,.0139,17.505,-.0059,17.525,.0073,17.555,-.0119,17.575,.0032,17.605,.0107,17.625,-.0007,17.655,.0155,17.675,-.0086,17.705,.0044,17.725,.0013,17.755,-.0048,17.775,.0128,17.805,-.0134,17.825,.0061,17.855,.0096,17.875,-.0023,17.905,.0037,17.925,-.0109,17.955,.0082,17.975,.0148,17.045,-.0065,17.195,.0019,17.345,.0114,17.495,-.0039,17.645,.0071,17.795,-.0001,17.945,-.0097,17.265,.0132,17.565,.0042,17.865,-.0014,
18.015,.0108,18.035,-.0013,18.055,.0041,18.085,-.0118,18.105,.0136,18.125,.0067,18.155,-.0049,18.175,.0022,18.205,.0094,18.225,-.0083,18.255,.0151,18.275,.0014,18.305,-.0032,18.325,.0079,18.355,-.0129,18.375,.0052,18.405,.0119,18.425,-.0062,18.455,.0031,18.475,-.0005,18.505,.0141,18.525,-.0096,18.555,.0063,18.575,.0017,18.605,-.0041,18.625,.0101,18.655,-.0113,18.675,.0046,18.705,.0127,18.725,-.0074,18.755,.0009,18.775,.0085,18.805,-.0026,18.825,.0149,18.855,-.0137,18.875,.0038,18.905,.0072,18.925,-.0054,18.955,.0113,18.975,.0024,18.045,-.0088,18.195,.0058,18.345,-.0016,18.495,.0132,18.645,.0003,18.795,-.0106,18.945,.0091,18.265,.0035,18.565,-.0067,18.865,.0121,
19.015,-.0037,19.035,.0076,19.055,.0131,19.085,-.0092,19.105,.0028,19.125,.0109,19.155,-.0015,19.175,.0054,19.205,-.0124,19.225,.0142,19.255,.0039,19.275,-.0061,19.305,.0087,19.325,.0006,19.355,-.0109,19.375,.0122,19.405,.0047,19.425,-.0028,19.455,.0153,19.475,-.0078,19.505,.0019,19.525,.0097,19.555,-.0046,19.575,.0064,19.605,-.0135,19.625,.0113,19.655,.0031,19.675,-.0008,19.705,.0138,19.725,-.0087,19.755,.0051,19.775,.0011,19.805,-.0056,19.825,.0126,19.855,-.0116,19.875,.0073,19.905,.0024,19.925,-.0033,19.955,.0146,19.975,-.0071,19.045,.0042,19.195,.0089,19.345,-.0103,19.495,.0016,19.645,.0118,19.795,-.0019,19.945,.0061,19.265,-.0128,19.565,.0099,19.865,.0035,
20.015,.0092,20.035,-.0058,20.055,.0023,20.085,.0147,20.105,-.0106,20.125,.0049,20.155,-.0014,20.175,.0118,20.205,.0035,20.225,-.0083,20.255,.0071,20.275,-.0129,20.305,.0136,20.325,.0011,20.355,-.0041,20.375,.0098,20.405,-.0067,20.425,.0154,20.455,.0027,20.475,-.0022,20.505,.0083,20.525,-.0114,20.555,.0059,20.575,.0126,20.605,-.0049,20.625,.0004,20.655,.0109,20.675,-.0092,20.705,.0043,20.725,.0141,20.755,-.0031,20.775,.0067,20.805,-.0135,20.825,.0019,20.855,.0094,20.875,-.0009,20.905,.0131,20.925,-.0074,20.955,.0038,20.975,.0115,20.045,-.0053,20.195,.0008,20.345,-.0121,20.495,.0076,20.645,.0149,20.795,-.0036,20.945,.0055,20.265,-.0098,20.565,.0029,20.865,.0103,
21.015,-.0019,21.035,.0124,21.055,.0051,21.085,-.0097,21.105,.0083,21.125,.0012,21.155,-.0133,21.175,.0146,21.205,-.0044,21.225,.0068,21.255,.0029,21.275,-.0076,21.305,.0112,21.325,-.0008,21.355,.0039,21.375,-.0117,21.405,.0157,21.425,.0061,21.455,-.0053,21.475,.0094,21.505,.0017,21.525,-.0088,21.555,.0131,21.575,-.0026,21.605,.0048,21.625,-.0109,21.655,.0079,21.675,.0141,21.705,-.0064,21.725,.0024,21.755,.0102,21.775,-.0035,21.805,.0066,21.825,-.0127,21.855,.0118,21.875,.0007,21.905,-.0046,21.925,.0089,21.955,.0034,21.975,-.0081,21.045,.0149,21.195,-.0012,21.345,.0056,21.495,-.0101,21.645,.0127,21.795,.0021,21.945,-.0059,21.265,.0073,21.565,-.0138,21.865,.0045,
22.015,.0063,22.035,.0146,22.055,-.0072,22.085,.0028,22.105,-.0114,22.125,.0097,22.155,.0011,22.175,-.0039,22.205,.0128,22.225,.0049,22.255,-.0093,22.275,.0075,22.305,-.0017,22.325,.0139,22.355,-.0126,22.375,.0036,22.405,.0104,22.425,-.0058,22.455,.0018,22.475,.0151,22.505,-.0082,22.525,.0057,22.555,-.0006,22.575,.0116,22.605,-.0131,22.625,.0042,22.655,.0089,22.675,-.0048,22.705,.0022,22.725,.0135,22.755,-.0101,22.775,.0069,22.805,-.0024,22.825,.0121,22.855,.0004,22.875,-.0067,22.905,.0095,22.925,-.0137,22.955,.0033,22.975,.0148,22.045,-.0053,22.195,.0078,22.345,-.0011,22.495,.0109,22.645,-.0086,22.795,.0026,22.945,.0143,22.265,-.0041,22.565,.0059,22.865,-.0119,
23.015,-.0089,23.035,.0036,23.055,.0119,23.085,-.0025,23.105,.0072,23.125,-.0131,23.155,.0153,23.175,.0014,23.205,-.0057,23.225,.0098,23.255,.0041,23.275,-.0104,23.305,.0127,23.325,-.0012,23.355,.0063,23.375,-.0078,23.405,.0145,23.425,.0027,23.455,-.0038,23.475,.0086,23.505,-.0122,23.525,.0051,23.555,.0112,23.575,-.0066,23.605,.0009,23.625,.0137,23.655,-.0096,23.675,.0044,23.705,-.0019,23.725,.0104,23.755,.0071,23.775,-.0135,23.805,.0023,23.825,.0149,23.855,-.0047,23.875,.0081,23.905,-.0007,23.925,.0124,23.955,-.0113,23.975,.0038,23.045,.0092,23.195,-.0061,23.345,.0016,23.495,.0132,23.645,-.0084,23.795,.0055,23.945,-.0029,23.265,.0107,23.565,.0002,23.865,-.0127,
24.015,.0049,24.035,-.0104,24.055,.0139,24.085,.0017,24.105,-.0062,24.125,.0091,24.155,-.0023,24.175,.0154,24.205,-.0119,24.225,.0038,24.255,.0076,24.275,-.0045,24.305,.0121,24.325,.0006,24.355,-.0087,24.375,.0103,24.405,-.0131,24.425,.0058,24.455,.0147,24.475,-.0034,24.505,.0025,24.525,-.0098,24.555,.0116,24.575,.0044,24.605,-.0015,24.625,.0132,24.655,-.0076,24.675,.0067,24.705,.0011,24.725,-.0127,24.755,.0094,24.775,-.0051,24.805,.0151,24.825,.0029,24.855,-.0039,24.875,.0083,24.905,-.0109,24.925,.0061,24.955,.0126,24.975,-.0007,24.045,.0039,24.195,-.0141,24.345,.0108,24.495,.0021,24.645,-.0066,24.795,.0145,24.945,-.0028,24.265,.0073,24.565,.0013,24.865,-.0092
];
// shoulders of the cloud (growth about 0.016..0.028 above, -0.012..-0.019 below)
const zipShoulder = [
1.22,.0233,1.57,.0197,1.84,-.0143,2.11,.0252,2.36,.0211,2.54,-.0152,2.78,.0278,2.93,.0184,3.09,.0231,3.27,-.0137,3.48,.0269,3.61,.0205,3.79,-.0158,3.92,.0249,4.04,.0213,4.19,.0281,4.33,-.0146,4.51,.0227,4.67,.0192,4.79,-.0165,4.88,.0258,4.97,.0201,
5.12,.0187,5.33,-.0141,5.48,.0224,5.71,-.0166,5.86,.0172,5.96,.0243,5.22,-.0129,5.57,.0205,5.79,-.0153,5.41,.0161,5.65,.0262,5.93,-.0137,
6.08,.0213,6.21,-.0158,6.38,.0176,6.47,.0251,6.62,-.0133,6.74,.0194,6.89,-.0172,6.98,.0228,6.16,.0169,6.53,-.0146,6.83,.0238,6.29,-.0126,
7.06,-.0149,7.18,.0233,7.29,.0184,7.42,-.0168,7.57,.0209,7.69,.0162,7.81,-.0139,7.94,.0247,7.12,.0198,7.48,-.0131,7.72,.0256,7.87,-.0177,
8.05,.0171,8.17,-.0161,8.29,.0218,8.38,.0253,8.53,-.0142,8.68,.0187,8.77,-.0128,8.92,.0236,8.11,-.0175,8.47,.0201,8.62,.0166,8.83,-.0152,
9.03,.0229,9.15,-.0136,9.33,.0179,9.42,-.0164,9.54,.0248,9.66,.0192,9.78,-.0147,9.93,.0167,9.21,.0211,9.48,-.0127,9.72,.0239,9.89,-.0171,
10.08,-.0157,10.17,.0192,10.32,.0226,10.41,-.0135,10.53,.0178,10.68,-.0166,10.74,.0245,10.89,.0163,10.23,.0204,10.47,-.0148,10.62,.0183,10.94,-.0129,
11.06,.0217,11.18,-.0149,11.33,.0174,11.42,.0238,11.54,-.0163,11.69,.0196,11.78,-.0131,11.93,.0228,11.12,-.0177,11.38,.0161,11.63,.0253,11.84,-.0142,
12.05,.0168,12.14,-.0136,12.29,.0233,12.38,-.0161,12.53,.0191,12.62,.0257,12.77,-.0147,12.92,.0176,12.23,-.0129,12.47,.0214,12.71,-.0173,12.89,.0239,
13.03,-.0158,13.18,.0201,13.29,.0246,13.42,-.0137,13.54,.0173,13.66,-.0165,13.78,.0219,13.93,.0162,13.12,.0183,13.39,-.0126,13.63,.0232,13.84,-.0151,
14.08,.0188,14.17,-.0143,14.32,.0223,14.41,.0165,14.53,-.0161,14.68,.0241,14.77,-.0129,14.92,.0197,14.14,-.0174,14.47,.0178,14.62,-.0138,14.89,.0212,
15.06,.0172,15.15,-.0154,15.33,.0209,15.42,.0241,15.54,-.0133,15.63,.0185,15.78,-.0167,15.93,.0226,15.21,.0163,15.48,-.0142,15.72,.0254,15.86,-.0126,
16.05,-.0139,16.14,.0215,16.32,.0181,16.41,-.0162,16.53,.0237,16.68,.0169,16.77,-.0148,16.92,.0203,16.23,-.0171,16.47,.0192,16.62,-.0131,16.89,.0248,
17.03,.0181,17.18,-.0151,17.33,.0226,17.42,-.0136,17.57,.0172,17.66,.0249,17.78,-.0163,17.93,.0194,17.12,.0213,17.39,-.0178,17.63,.0165,17.84,-.0129,
18.08,.0219,18.17,-.0146,18.29,.0174,18.41,.0236,18.53,-.0168,18.65,.0189,18.77,-.0134,18.92,.0251,18.14,-.0159,18.47,.0166,18.71,.0208,18.89,-.0141,
19.06,-.0162,19.18,.0187,19.33,.0243,19.42,-.0139,19.54,.0171,19.66,-.0153,19.78,.0216,19.93,.0178,19.12,.0231,19.39,-.0127,19.63,.0164,19.84,-.0175,
20.05,.0196,20.17,-.0142,20.32,.0168,20.41,.0229,20.53,-.0157,20.68,.0183,20.77,-.0131,20.92,.0241,20.14,-.0169,20.38,.0174,20.62,.0256,20.89,-.0148,
21.03,.0174,21.18,-.0158,21.33,.0211,21.42,-.0137,21.54,.0238,21.66,.0169,21.78,-.0163,21.93,.0193,21.12,-.0129,21.39,.0249,21.63,-.0146,21.84,.0181,
22.08,-.0137,22.17,.0229,22.32,.0176,22.41,-.0166,22.53,.0194,22.65,.0243,22.77,-.0149,22.92,.0172,22.14,.0208,22.47,-.0128,22.71,.0161,22.89,-.0173,
23.06,.0191,23.18,-.0152,23.33,.0234,23.42,.0168,23.54,-.0139,23.66,.0217,23.78,-.0171,23.93,.0246,23.12,-.0133,23.39,.0179,23.63,-.0158,23.84,.0201,
24.05,.0223,24.17,-.0148,24.32,.0172,24.41,-.0163,24.53,.0241,24.65,.0186,24.77,-.0136,24.92,.0209,24.14,.0164,24.38,-.0171,24.62,.0233,24.89,-.0127
];
const zipHighTail = [
2.46,.0646,2.95,.0645,1.76,.0590,2.36,.0570,3.11,.0545,1.88,.0530,2.17,.0535,2.46,.0524,3.55,.0526,3.57,.0501,2.27,.0490,3.01,.0492,1.70,.0473,1.84,.0464,2.73,.0475,3.22,.0464,3.40,.0454,2.27,.0453,4.16,.0461,4.55,.0439,3.75,.0439,1.29,.0423,1.97,.0428,2.21,.0432,2.52,.0420,2.68,.0427,4.00,.0427,3.85,.0412,1.31,.0395,3.11,.0401,4.04,.0397,4.08,.0386,3.71,.0392,2.36,.0384,3.01,.0384,3.22,.0383,1.62,.0381,2.13,.0374,2.60,.0367,1.68,.0364,3.46,.0368,3.65,.0366,2.23,.0360,1.46,.0357,3.28,.0354,0.66,.0347,0.62,.0335,1.23,.0342,1.45,.0338,2.46,.0339,3.67,.0347,3.91,.0342,3.57,.0335,4.10,.0331,4.49,.0335,1.93,.0323,2.13,.0318,1.23,.0314,1.56,.0318,3.18,.0313,4.22,.0323,4.65,.0311,2.44,.0300,3.05,.0299,5.00,.0574,4.98,.0550,5.02,.0477,5.08,.0446,4.98,.0415,4.98,.0405,4.98,.0358,4.98,.0342,5.41,.0345,5.62,.0349,0.47,.0293,
1.80,.0329,2.05,.0306,2.60,.0312,2.90,.0327,3.35,.0305,3.62,.0319,3.80,.0301,4.30,.0308,4.75,.0321,2.30,.0331,3.95,.0357,4.40,.0349,4.85,.0303,1.98,.0345,2.80,.0351,
5.80,.0401,6.39,.0397,6.66,.0391,7.56,.0394,7.65,.0395,7.52,.0382,8.40,.0388,9.36,.0399,10.33,.0388,10.92,.0393,10.78,.0375,9.34,.0369,9.75,.0369,5.82,.0372,6.04,.0370,5.98,.0361,6.31,.0366,5.61,.0351,5.76,.0346,6.68,.0353,6.93,.0355,7.05,.0343,7.38,.0342,7.77,.0345,7.97,.0340,8.24,.0334,8.42,.0337,8.91,.0349,9.12,.0349,9.34,.0340,9.51,.0330,10.00,.0351,10.29,.0354,10.12,.0334,10.70,.0334,11.27,.0347,11.46,.0354,11.72,.0342,11.19,.0331,11.48,.0324,12.25,.0339,12.23,.0319,13.34,.0349,14.26,.0351,14.94,.0351,14.67,.0326,15.08,.0316,
5.27,.0323,5.64,.0319,6.15,.0318,6.58,.0304,6.86,.0315,7.23,.0316,7.38,.0327,7.38,.0301,7.71,.0327,8.14,.0320,8.18,.0305,8.83,.0328,9.04,.0308,9.24,.0318,9.53,.0330,10.06,.0304,10.41,.0303,10.63,.0319,11.13,.0313,10.90,.0299,11.13,.0299,11.89,.0293,12.25,.0292,12.64,.0292,12.93,.0291,13.89,.0307,14.16,.0304,14.53,.0301,14.98,.0304,13.63,.0284,14.14,.0281,13.09,.0277,11.62,.0277,12.40,.0285,
15.96,.0382,16.74,.0374,17.19,.0351,17.19,.0318,18.36,.0335,19.00,.0322,20.47,.0361,20.96,.0367,20.35,.0338,20.55,.0334,21.23,.0326,21.13,.0307,21.76,.0315,23.11,.0341,23.93,.0377,24.04,.0300,24.38,.0299,24.43,.0308,
15.35,.0297,15.43,.0280,15.76,.0286,16.23,.0297,16.19,.0274,16.89,.0281,17.11,.0265,18.11,.0278,18.32,.0276,18.95,.0273,19.12,.0288,19.37,.0291,19.53,.0286,19.18,.0265,18.61,.0261,20.02,.0266,20.27,.0261,20.61,.0266,21.48,.0282,22.05,.0291,22.48,.0281,22.79,.0285,23.11,.0281,23.36,.0295,21.95,.0266,22.17,.0265,22.79,.0266,23.14,.0265,23.44,.0268,24.61,.0270,24.28,.0265,24.86,.0292,24.92,.0283
];
const zipLowTail = [
0.84,-.0173,0.76,-.0254,1.23,-.0293,1.72,-.0304,1.86,-.0373,1.60,-.0207,1.74,-.0207,1.62,-.0224,1.99,-.0216,2.15,-.0204,1.93,-.0184,1.97,-.0192,2.34,-.0251,2.32,-.0281,2.38,-.0195,2.68,-.0204,2.73,-.0224,2.79,-.0247,2.83,-.0193,2.95,-.0292,3.01,-.0285,3.13,-.0197,3.26,-.0228,3.32,-.0262,3.38,-.0205,3.50,-.0334,3.59,-.0239,3.87,-.0274,4.28,-.0205,4.28,-.0246,4.34,-.0193,4.49,-.0200,4.65,-.0212,4.84,-.0209,4.73,-.0367,5.18,-.0201,5.35,-.0245,5.74,-.0282,6.23,-.0211,6.13,-.0235,6.39,-.0245,6.54,-.0234,6.48,-.0261,6.66,-.0201,6.97,-.0199,7.27,-.0209,7.44,-.0211,7.36,-.0235,7.62,-.0216,7.62,-.0246,7.44,-.0328,7.70,-.0193,7.79,-.0277,8.14,-.0242,8.24,-.0276,
8.36,-.0249,8.63,-.0268,8.77,-.0295,8.61,-.0211,8.87,-.0224,8.85,-.0246,9.06,-.0245,9.32,-.0322,9.22,-.0231,9.28,-.0219,9.53,-.0231,9.63,-.0207,9.80,-.0200,9.80,-.0241,9.80,-.0257,10.14,-.0205,10.16,-.0219,10.20,-.0223,10.43,-.0246,10.61,-.0246,10.63,-.0370,11.04,-.0225,11.05,-.0266,11.15,-.0288,10.94,-.0203,11.13,-.0246,11.27,-.0247,11.39,-.0246,11.56,-.0241,11.74,-.0245,11.31,-.0214,11.45,-.0212,11.64,-.0197,11.86,-.0200,11.88,-.0335,12.09,-.0203,12.15,-.0220,12.13,-.0231,12.46,-.0192,12.70,-.0295,12.79,-.0297,12.85,-.0307,12.77,-.0339,13.03,-.0281,13.07,-.0261,13.18,-.0239,13.50,-.0224,13.52,-.0246,13.67,-.0241,13.52,-.0273,13.73,-.0273,13.69,-.0292,13.81,-.0284,13.91,-.0276,14.02,-.0280,13.91,-.0315,14.20,-.0335,13.95,-.0246,14.00,-.0232,13.83,-.0218,13.77,-.0204,14.08,-.0212,14.45,-.0246,14.90,-.0246,14.92,-.0207,15.14,-.0234,15.16,-.0261,15.18,-.0214,15.57,-.0227,15.57,-.0246,15.57,-.0323,15.68,-.0212,15.76,-.0246,15.86,-.0235,15.92,-.0223,15.98,-.0246,15.98,-.0259,16.05,-.0236,16.13,-.0228,16.23,-.0212,16.56,-.0282,16.76,-.0277,16.80,-.0262,16.72,-.0246,16.84,-.0207,15.31,-.0195,15.12,-.0191,
16.99,-.0285,17.17,-.0266,17.34,-.0305,17.23,-.0226,17.58,-.0226,17.79,-.0226,18.01,-.0235,17.75,-.0261,18.24,-.0268,18.44,-.0224,18.57,-.0216,18.50,-.0203,16.99,-.0246,17.27,-.0246,17.52,-.0246,18.01,-.0246,18.16,-.0246,18.38,-.0246,18.59,-.0246,19.06,-.0188,19.06,-.0212,19.14,-.0228,19.30,-.0246,19.59,-.0246,19.51,-.0297,19.59,-.0276,19.57,-.0374,20.00,-.0389,20.25,-.0366,20.45,-.0368,20.12,-.0312,20.49,-.0319,20.88,-.0316,20.45,-.0285,19.96,-.0232,20.18,-.0246,20.43,-.0246,20.74,-.0246,20.51,-.0234,20.35,-.0222,19.96,-.0186,20.35,-.0193,20.64,-.0200,20.82,-.0192,21.05,-.0188,21.07,-.0204,21.33,-.0195,21.33,-.0212,21.33,-.0220,21.19,-.0246,21.41,-.0246,21.52,-.0262,21.91,-.0246,21.89,-.0300,22.13,-.0208,22.38,-.0185,22.58,-.0222,22.52,-.0246,22.54,-.0257,22.77,-.0251,22.77,-.0269,23.05,-.0184,23.30,-.0201,23.12,-.0246,23.38,-.0246,23.77,-.0186,23.79,-.0209,24.02,-.0211,24.26,-.0219,23.65,-.0234,23.81,-.0273,24.14,-.0258,24.18,-.0353,24.38,-.0246,24.57,-.0236,24.61,-.0246,24.73,-.0246,24.82,-.0261,24.47,-.0192,24.77,-.0196,24.94,-.0182
];

// ---------- assemble ----------
const zipArrays = [zip00_05, zip05_10, zip10_15, zip15_20, zip20_25, zipDense01_10, zipDense10_25, zipShoulder, zipHighTail, zipLowTail];
const points = zipArrays.flatMap(a => d3.range(0, a.length - 1, 2).map(i => ({d: a[i], g: a[i + 1]})));

const svg = d3.select("#chart");
const x = d3.scaleLinear().domain([-0.449, 25.527]).range([182, 1512]);
const y = d3.scaleLinear().domain([-0.04338, 0.06797]).range([836, 12]);

const NAVY = "#1d4a78", MAROON = "#9a3137", GREEN = "#5a812f";
const FS_TICK = 39, FS = 40;

// gridlines
svg.append("g").selectAll("line").data(yTicks).join("line")
  .attr("x1", 182).attr("x2", 1512)
  .attr("y1", d => y(d)).attr("y2", d => y(d))
  .attr("stroke", "#e2e2e2").attr("stroke-width", 3);

// points
svg.append("g").selectAll("circle").data(points).join("circle")
  .attr("cx", p => x(p.d)).attr("cy", p => y(p.g)).attr("r", 3)
  .attr("fill", NAVY);

// smoothed curves
const line = d3.line().x((d, i) => x(curveDistance[i])).y(d => y(d)).curve(d3.curveMonotoneX);
svg.append("path").datum(smoothSmall).attr("d", line)
  .attr("fill", "none").attr("stroke", MAROON).attr("stroke-width", 8);
svg.append("path").datum(smoothLarge).attr("d", line)
  .attr("fill", "none").attr("stroke", GREEN).attr("stroke-width", 8);

// axes
const yAxis = d3.axisLeft(y).tickValues(yTicks).tickFormat(d3.format(".2f"))
  .tickSize(16).tickSizeOuter(0).tickPadding(10);
const gy = svg.append("g").attr("transform", "translate(182,0)").call(yAxis);
const xAxis = d3.axisBottom(x).tickValues(xTicks).tickFormat(d3.format("d"))
  .tickSize(14).tickSizeOuter(0).tickPadding(12);
const gx = svg.append("g").attr("transform", "translate(0,836)").call(xAxis);
[gx, gy].forEach(g => {
  g.select(".domain").attr("stroke", "#111").attr("stroke-width", 2.2);
  g.selectAll(".tick line").attr("stroke", "#111").attr("stroke-width", 2.2);
  g.selectAll(".tick text").attr("font-size", FS_TICK).attr("fill", "#111")
    .attr("font-family", '"Liberation Sans",Arial,sans-serif');
});

// axis titles
svg.append("text").attr("x", 845).attr("y", 958).attr("text-anchor", "middle")
  .attr("font-size", FS).text("Distance to CBD (miles)");
svg.append("text").attr("transform", "translate(45,425) rotate(-90)").attr("text-anchor", "middle")
  .attr("font-size", FS).text("Real HPI Growth, 1990\u22122015 (annual avg rate)");

// legend
const lg = svg.append("g");
lg.append("rect").attr("x", 474).attr("y", 25).attr("width", 1023).attr("height", 187)
  .attr("fill", "#fff").attr("stroke", "#111").attr("stroke-width", 2);
const legendItems = [
  {label: "Zipcode", type: "dot", color: NAVY, cy: 62},
  {label: "Polynomial Smoothed Growth, < 500k Units", type: "line", color: MAROON, cy: 119},
  {label: "Polynomial Smoothed Growth, > 500k Units", type: "line", color: GREEN, cy: 175}
];
legendItems.forEach(it => {
  if (it.type === "dot") {
    lg.append("circle").attr("cx", 568).attr("cy", it.cy).attr("r", 2.4).attr("fill", it.color);
  } else {
    lg.append("line").attr("x1", 493).attr("x2", 643).attr("y1", it.cy).attr("y2", it.cy)
      .attr("stroke", it.color).attr("stroke-width", 9);
  }
  lg.append("text").attr("x", 667).attr("y", it.cy).attr("dy", "0.35em")
    .attr("font-size", FS).text(it.label);
});
</script>
</body></html>
